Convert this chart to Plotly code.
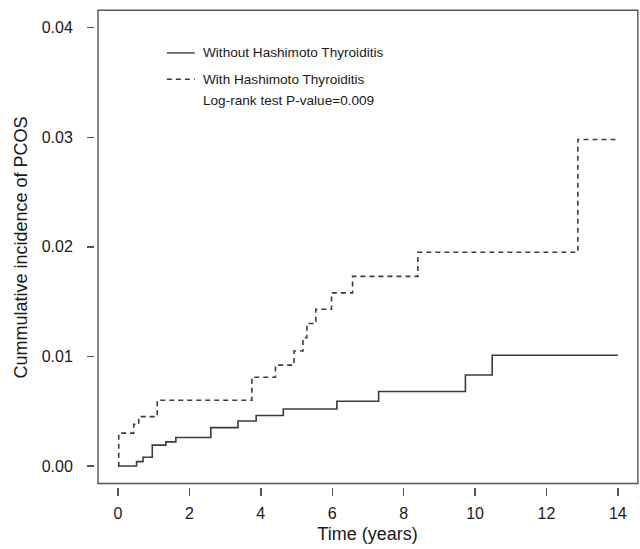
import plotly.graph_objects as go

# Data (step functions, cumulative incidence)
time_without = [0, 0.52, 0.70, 0.96, 1.34, 1.62, 2.60, 3.36, 3.87, 4.63, 6.13, 7.30, 9.73, 10.48, 14.0]
inc_without = [0, 0.0004, 0.0008, 0.0019, 0.0022, 0.0026, 0.0035, 0.0041, 0.0046, 0.0052, 0.0059, 0.0068, 0.0083, 0.0101, 0.0101]

time_with = [0, 0.02, 0.44, 0.58, 1.10, 3.75, 4.41, 4.93, 5.18, 5.29, 5.54, 5.98, 6.57, 8.40, 12.88, 14.0]
inc_with = [0, 0.0030, 0.0038, 0.0045, 0.0060, 0.0081, 0.0092, 0.0105, 0.0117, 0.0130, 0.0143, 0.0158, 0.0173, 0.0195, 0.0298, 0.0298]

x_ticks = [0, 2, 4, 6, 8, 10, 12, 14]
y_ticks = [0.00, 0.01, 0.02, 0.03, 0.04]

series_names = ["Without Hashimoto Thyroiditis", "With Hashimoto Thyroiditis"]
pvalue_text = "Log-rank test P-value=0.009"

LINE = "#3c3c3c"
TEXT = "#1a1a1a"
FONT = "Liberation Sans, Arial, Helvetica, sans-serif"

fig = go.Figure()
fig.add_trace(go.Scatter(x=time_without, y=inc_without, mode="lines", line_shape="hv",
                         line=dict(color=LINE, width=1.6), name=series_names[0], showlegend=False))
fig.add_trace(go.Scatter(x=time_with, y=inc_with, mode="lines", line_shape="hv",
                         line=dict(color=LINE, width=1.6, dash="5px,4px"), name=series_names[1], showlegend=False))

# frame box (R style)
fig.add_shape(type="rect", xref="x", yref="y", x0=-0.56, x1=14.56, y0=-0.0016, y1=0.0416,
              line=dict(color="#555555", width=1.4), layer="above")

# legend drawn in plot
leg_x0, leg_x1, txt_x = 1.37, 2.15, 2.33
leg_rows = [0.0377, 0.0353, 0.0334]
fig.add_shape(type="line", xref="x", yref="y", x0=leg_x0, x1=leg_x1, y0=leg_rows[0], y1=leg_rows[0],
              line=dict(color=LINE, width=1.4))
fig.add_shape(type="line", xref="x", yref="y", x0=leg_x0, x1=leg_x1, y0=leg_rows[1], y1=leg_rows[1],
              line=dict(color=LINE, width=1.4, dash="5px,4px"))
for txt, yy in zip(series_names + [pvalue_text], leg_rows):
    fig.add_annotation(x=txt_x, y=yy, xref="x", yref="y", text=txt, showarrow=False,
                       xanchor="left", yanchor="middle", font=dict(size=13.6, color=TEXT, family=FONT))

fig.update_xaxes(range=[-0.644, 14.62], tickvals=x_ticks, ticktext=[str(v) for v in x_ticks],
                 ticks="outside", ticklen=8, tickwidth=1.4, tickcolor="#555555",
                 showgrid=False, zeroline=False, showline=False,
                 tickfont=dict(size=16, color=TEXT, family=FONT), ticklabelstandoff=4,
                 title=dict(text="Time (years)", font=dict(size=18, color=TEXT, family=FONT), standoff=6))
fig.update_yaxes(range=[-0.00192, 0.0418], tickvals=y_ticks, ticktext=[f"{v:.2f}" for v in y_ticks],
                 ticks="outside", ticklen=7, tickwidth=1.4, tickcolor="#555555",
                 showgrid=False, zeroline=False, showline=False,
                 tickfont=dict(size=16, color=TEXT, family=FONT), ticklabelstandoff=11,
                 title=dict(text="Cummulative incidence of PCOS", font=dict(size=18, color=TEXT, family=FONT), standoff=9))

fig.update_layout(width=640, height=549, margin=dict(l=95, r=0, t=8, b=62, autoexpand=False),
                  plot_bgcolor="white", paper_bgcolor="white", showlegend=False,
                  font=dict(family=FONT, color=TEXT))

fig.write_html("out.html", config={"displayModeBar": False, "staticPlot": True},
               post_script="document.body.style.margin='0';document.body.style.overflow='hidden';")
